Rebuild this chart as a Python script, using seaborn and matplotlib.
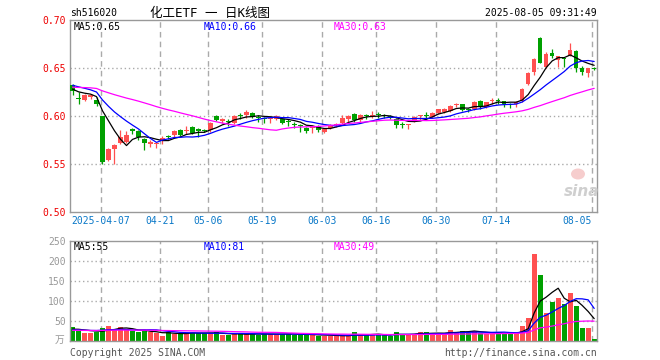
import numpy as np
import pandas as pd
import matplotlib
matplotlib.use("Agg")
import matplotlib.pyplot as plt
from matplotlib.patches import Ellipse
import seaborn as sns

# ---------------- data ----------------
dates = ['03-28','03-31','04-01','04-02','04-03','04-07','04-08','04-09','04-10','04-11',
         '04-14','04-15','04-16','04-17','04-18','04-21','04-22','04-23','04-24','04-25',
         '04-28','04-29','04-30','05-06','05-07','05-08','05-09','05-12','05-13','05-14',
         '05-15','05-16','05-19','05-20','05-21','05-22','05-23','05-26','05-27','05-28',
         '05-29','05-30','06-03','06-04','06-05','06-06','06-09','06-10','06-11','06-12',
         '06-13','06-16','06-17','06-18','06-19','06-20','06-23','06-24','06-25','06-26',
         '06-27','06-30','07-01','07-02','07-03','07-04','07-07','07-08','07-09','07-10',
         '07-11','07-14','07-15','07-16','07-17','07-18','07-21','07-22','07-23','07-24',
         '07-25','07-28','07-29','07-30','07-31','08-01','08-04','08-05']

opens = [0.632,0.619,0.617,0.620,0.617,0.600,0.554,0.566,0.572,0.573,
         0.586,0.584,0.576,0.571,0.571,0.575,0.579,0.580,0.585,0.584,
         0.589,0.586,0.585,0.585,0.600,0.595,0.595,0.593,0.601,0.601,
         0.603,0.599,0.598,0.597,0.597,0.597,0.595,0.592,0.591,0.588,
         0.587,0.590,0.583,0.587,0.591,0.593,0.597,0.602,0.596,0.601,
         0.600,0.602,0.601,0.600,0.597,0.592,0.591,0.595,0.600,0.601,
         0.599,0.603,0.604,0.605,0.611,0.612,0.607,0.607,0.616,0.609,
         0.616,0.617,0.616,0.613,0.612,0.616,0.633,0.646,0.681,0.651,
         0.666,0.658,0.660,0.663,0.668,0.650,0.645,0.650]
highs = [0.633,0.625,0.623,0.623,0.620,0.600,0.567,0.571,0.585,0.584,
         0.587,0.585,0.577,0.575,0.573,0.579,0.580,0.585,0.586,0.590,
         0.590,0.587,0.586,0.594,0.601,0.598,0.597,0.601,0.603,0.606,
         0.604,0.601,0.599,0.599,0.601,0.598,0.597,0.594,0.592,0.589,
         0.590,0.591,0.587,0.592,0.593,0.601,0.601,0.603,0.602,0.602,
         0.605,0.604,0.602,0.601,0.598,0.594,0.592,0.600,0.601,0.604,
         0.604,0.607,0.608,0.611,0.614,0.613,0.608,0.616,0.617,0.615,
         0.619,0.619,0.616,0.614,0.616,0.629,0.646,0.660,0.682,0.667,
         0.670,0.662,0.660,0.676,0.669,0.652,0.650,0.651]
lows = [0.622,0.612,0.616,0.618,0.610,0.550,0.553,0.550,0.571,0.572,
        0.581,0.575,0.565,0.568,0.567,0.571,0.576,0.578,0.579,0.581,
        0.581,0.578,0.583,0.583,0.595,0.593,0.590,0.592,0.597,0.598,
        0.598,0.594,0.593,0.593,0.596,0.592,0.590,0.588,0.583,0.582,
        0.582,0.583,0.582,0.586,0.589,0.592,0.594,0.594,0.594,0.597,
        0.598,0.598,0.598,0.597,0.588,0.587,0.586,0.594,0.596,0.596,
        0.598,0.602,0.603,0.604,0.609,0.605,0.604,0.606,0.607,0.608,
        0.613,0.613,0.609,0.608,0.609,0.615,0.632,0.643,0.655,0.650,
        0.660,0.651,0.651,0.662,0.646,0.643,0.641,0.648]
closes = [0.626,0.618,0.622,0.622,0.613,0.552,0.566,0.570,0.578,0.580,
          0.584,0.578,0.572,0.573,0.572,0.577,0.578,0.584,0.580,0.585,
          0.582,0.584,0.584,0.593,0.596,0.597,0.594,0.600,0.600,0.604,
          0.599,0.598,0.597,0.598,0.600,0.593,0.594,0.591,0.590,0.584,
          0.590,0.585,0.586,0.590,0.592,0.598,0.600,0.596,0.601,0.600,
          0.601,0.601,0.600,0.598,0.591,0.591,0.592,0.599,0.601,0.600,
          0.603,0.607,0.607,0.610,0.612,0.606,0.606,0.615,0.610,0.615,
          0.617,0.616,0.612,0.612,0.615,0.628,0.645,0.659,0.655,0.665,
          0.663,0.662,0.659,0.669,0.650,0.646,0.650,0.649]
volumes = [35,25,19,19,23,33,38,27,35,26,
           24,22,24,22,20,12,21,18,18,20,
           20,19,19,19,21,15,14,16,19,17,
           17,14,17,17,17,17,17,15,15,15,
           15,13,13,13,12,12,12,21,14,14,
           17,16,14,11,23,15,15,18,21,21,
           18,17,17,28,23,25,20,25,20,17,
           17,20,20,17,19,37,57,218,164,69,
           97,108,93,119,88,33,32,4]

# closes / volumes of the sessions before the window (needed for the moving averages)
prior_closes = [0.625,0.627,0.630,0.632,0.628,0.626,0.629,0.631,0.633,0.630,
                0.628,0.627,0.629,0.632,0.630,0.628,0.627,0.630,0.631,0.627,
                0.634,0.637,0.638,0.636,0.635,0.632,0.629,0.627,0.626]
prior_volumes = [24,26,25,27,25,24,26,25,27,26,
                 25,24,26,25,27,26,25,24,26,27,
                 24,25,26,25,25,26,28,27,28]

tick_dates = ['04-07','04-21','05-06','05-19','06-03','06-16','06-30','07-14','08-05']
tick_labels = ['2025-04-07','04-21','05-06','05-19','06-03','06-16','06-30','07-14','08-05']
price_ticks = [0.50, 0.55, 0.60, 0.65, 0.70]
vol_ticks = [50, 100, 150, 200, 250]
ma_windows = [5, 10, 30]
ma_colors = ['#000000', '#0000FF', '#FF00FF']
price_ma_text = ['MA5:0.65', 'MA10:0.66', 'MA30:0.63']
vol_ma_text = ['MA5:55', 'MA10:81', 'MA30:49']

# ---------------- build ----------------
n = len(dates)
df = pd.DataFrame({'x': np.arange(n), 'open': opens, 'high': highs, 'low': lows,
                   'close': closes, 'vol': volumes})
all_c = pd.Series(prior_closes + closes)
all_v = pd.Series(prior_volumes + volumes)
for w in ma_windows:
    df[f'ma{w}'] = all_c.rolling(w).mean().values[-n:]
    df[f'vma{w}'] = all_v.rolling(w).mean().values[-n:]

RED = '#FF5050'
GREEN = '#00A000'
up = df['close'] > df['open']
cols = np.where(up, RED, GREEN)

sns.set_style('white')
plt.rcParams['font.family'] = ['DejaVu Sans Mono', 'Noto Sans CJK SC']

W, H = 660, 360
fig = plt.figure(figsize=(W / 100, H / 100), dpi=100)

def fx(px):
    return px / W

def fy(py):
    return 1 - py / H

ax = fig.add_axes([fx(70), fy(212), fx(597) - fx(70), fy(20) - fy(212)])
axv = fig.add_axes([fx(70), fy(340.7), fx(597) - fx(70), fy(240.7) - fy(340.7)])

xmin, xmax = -0.42, 87.47
grid_x = [dates.index(d) - 0.33 for d in tick_dates]

for a in (ax, axv):
    a.set_xlim(xmin, xmax)
    for s in a.spines.values():
        s.set_color('#999999')
        s.set_linewidth(1.0)
    for gx in grid_x:
        a.axvline(gx, color='#AAAAAA', lw=1.0, ls=(0, (4, 3)), zorder=0)
    a.tick_params(length=0)

# price panel
ax.set_ylim(0.50, 0.70)
for yv in price_ticks[1:-1]:
    ax.axhline(yv, color='#AAAAAA', lw=1.0, ls=(0, (1, 2)), zorder=0)
body_h = np.maximum(np.abs(df['close'] - df['open']), 0.0009)
body_b = np.minimum(df['close'], df['open'])
ax.vlines(df['x'], df['low'], df['high'], colors=cols, lw=0.9, zorder=2)
ax.bar(df['x'], body_h, bottom=body_b, width=0.75, color=cols, lw=0, zorder=3)
for w, c in zip(ma_windows, ma_colors):
    sns.lineplot(data=df, x='x', y=f'ma{w}', color=c, lw=0.9, ax=ax, zorder=4,
                 sort=False, estimator=None)
ax.set_xlabel('')
ax.set_ylabel('')
ax.set_yticks(price_ticks)
ax.set_yticklabels([f'{v:.2f}' for v in price_ticks])
ax.tick_params(axis='y', colors='#EE0000', labelsize=7, pad=3)
ax.set_xticks(grid_x)
ax.set_xticklabels(tick_labels)
ax.tick_params(axis='x', colors='#0A78C8', labelsize=7, pad=3)
xt = ax.get_xticklabels()
xt[-1].set_horizontalalignment('right')

# volume panel
axv.set_ylim(0, 250)
for yv in vol_ticks[:-1]:
    axv.axhline(yv, color='#AAAAAA', lw=1.0, ls=(0, (1, 2)), zorder=0)
axv.bar(df['x'], df['vol'], width=0.78, color=cols, lw=0, zorder=2)
for w, c in zip(ma_windows, ma_colors):
    sns.lineplot(data=df, x='x', y=f'vma{w}', color=c, lw=0.9, ax=axv, zorder=4,
                 sort=False, estimator=None)
axv.set_xlabel('')
axv.set_ylabel('')
axv.set_xticks([])
axv.set_yticks(vol_ticks)
axv.set_yticklabels([str(v) for v in vol_ticks])
axv.tick_params(axis='y', colors='#999999', labelsize=7, pad=3)

# texts
fig.text(fx(70), fy(13), 'sh516020', ha='left', va='center', fontsize=7, color='#000000')
fig.text(fx(210), fy(13), '化工ETF 一 日K线图', ha='center', va='center', fontsize=9,
         color='#000000')
fig.text(fx(597), fy(13), '2025-08-05 09:31:49', ha='right', va='center', fontsize=7,
         color='#000000')
for xp, t, c in zip([74, 204, 334], price_ma_text, ma_colors):
    fig.text(fx(xp), fy(27), t, ha='left', va='center', fontsize=7, color=c)
for xp, t, c in zip([74, 204, 334], vol_ma_text, ma_colors):
    fig.text(fx(xp), fy(247), t, ha='left', va='center', fontsize=7, color=c)
fig.text(fx(64), fy(340), '万', ha='right', va='center', fontsize=7, color='#999999')
fig.text(fx(70), fy(353), 'Copyright 2025 SINA.COM', ha='left', va='center', fontsize=7,
         color='#555555')
fig.text(fx(597), fy(353), 'http://finance.sina.com.cn', ha='right', va='center',
         fontsize=7, color='#555555')

# sina watermark
fig.patches.append(Ellipse((fx(578), fy(174)), 14 / W, 11 / H, transform=fig.transFigure,
                           facecolor='#F6C8C8', edgecolor='none', alpha=0.9))
fig.text(fx(582), fy(192), 'sina', ha='center', va='center', fontsize=11,
         fontstyle='italic', fontweight='bold', color='#CFCFCF', family='DejaVu Sans')

fig.savefig('out.png', dpi=100)
